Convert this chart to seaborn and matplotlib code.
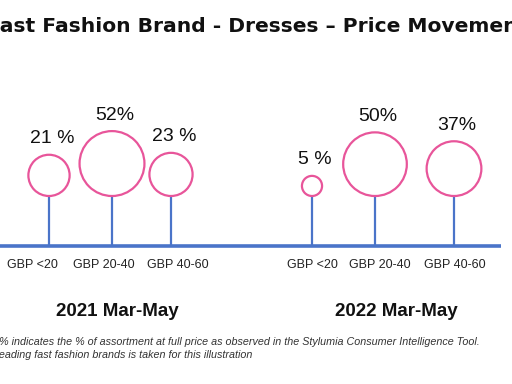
import seaborn as sns
import pandas as pd
import matplotlib.pyplot as plt

# data
periods = ['2021 Mar-May', '2022 Mar-May']
price_bands = ['GBP <20', 'GBP 20-40', 'GBP 40-60']
full_price_2021 = [21, 52, 23]
full_price_2022 = [5, 50, 37]
value_labels_2021 = ['21 %', '52%', '23 %']
value_labels_2022 = ['5 %', '50%', '37%']

title = 'Fast Fashion Brand - Dresses \u2013 Price Movement'
notes = ['*% indicates the % of assortment at full price as observed in the Stylumia Consumer Intelligence Tool.',
         '*One of the leading fast fashion brands is taken for this illustration']

# layout (pixel-like units on a 512x384 canvas)
stem_x = [49, 112, 171, 312, 375, 454]
tick_x = [32, 104, 178, 312, 380, 455]
period_x = [117, 396]
baseline_y = 246
circle_bottom = 196
r_scale = 4.5  # px radius per sqrt(%)

PINK = '#E8559A'
BLUE = '#4A74C9'

df = pd.DataFrame({
    'period': [periods[0]] * 3 + [periods[1]] * 3,
    'band': price_bands * 2,
    'value': full_price_2021 + full_price_2022,
    'label': value_labels_2021 + value_labels_2022,
})
df['x'] = stem_x
df['tick_x'] = tick_x
df['r'] = r_scale * df['value'] ** 0.5
df['y'] = circle_bottom - df['r']

sns.set_style('white')
fig = plt.figure(figsize=(5.12, 3.84), dpi=100)
ax = fig.add_axes([0, 0, 1, 1])
ax.set_xlim(0, 512)
ax.set_ylim(384, 0)
ax.axis('off')

# baseline and stems
ax.plot([0, 501], [baseline_y, baseline_y], color=BLUE, lw=2.6, solid_capstyle='butt', zorder=1)
ax.vlines(df['x'], df['y'] + df['r'], baseline_y, color=BLUE, lw=1.6, zorder=1)

# circles, area proportional to value
vmin, vmax = df['value'].min(), df['value'].max()
k = (1.44 * r_scale) ** 2
sns.scatterplot(data=df, x='x', y='y', size='value', sizes=(vmin * k, vmax * k),
                size_norm=(vmin, vmax), facecolor='white', edgecolor=PINK,
                linewidth=1.6, legend=False, ax=ax, zorder=3)

for _, row in df.iterrows():
    ax.text(row['x'] + 3, row['y'] - row['r'] - 16, row['label'], ha='center', va='center',
            fontsize=14, family='Liberation Sans', color='#111111')
    ax.text(row['tick_x'], 265, row['band'], ha='center', va='center',
            fontsize=9, family='Liberation Sans', color='#222222')

for px, p in zip(period_x, periods):
    ax.text(px, 312, p, ha='center', va='center', fontsize=13.5,
            fontweight='bold', family='Liberation Sans', color='#111111')

ax.text(-13, 27, title, ha='left', va='center', fontsize=14.6, fontweight='bold',
        family='DejaVu Sans', color='#111111')

ax.text(480, 342, notes[0], ha='right', va='center', fontsize=7.75, style='italic',
        family='Liberation Sans', color='#333333')
ax.text(252, 355, notes[1], ha='right', va='center', fontsize=7.75, style='italic',
        family='Liberation Sans', color='#333333')

fig.savefig('out.png', dpi=100)
